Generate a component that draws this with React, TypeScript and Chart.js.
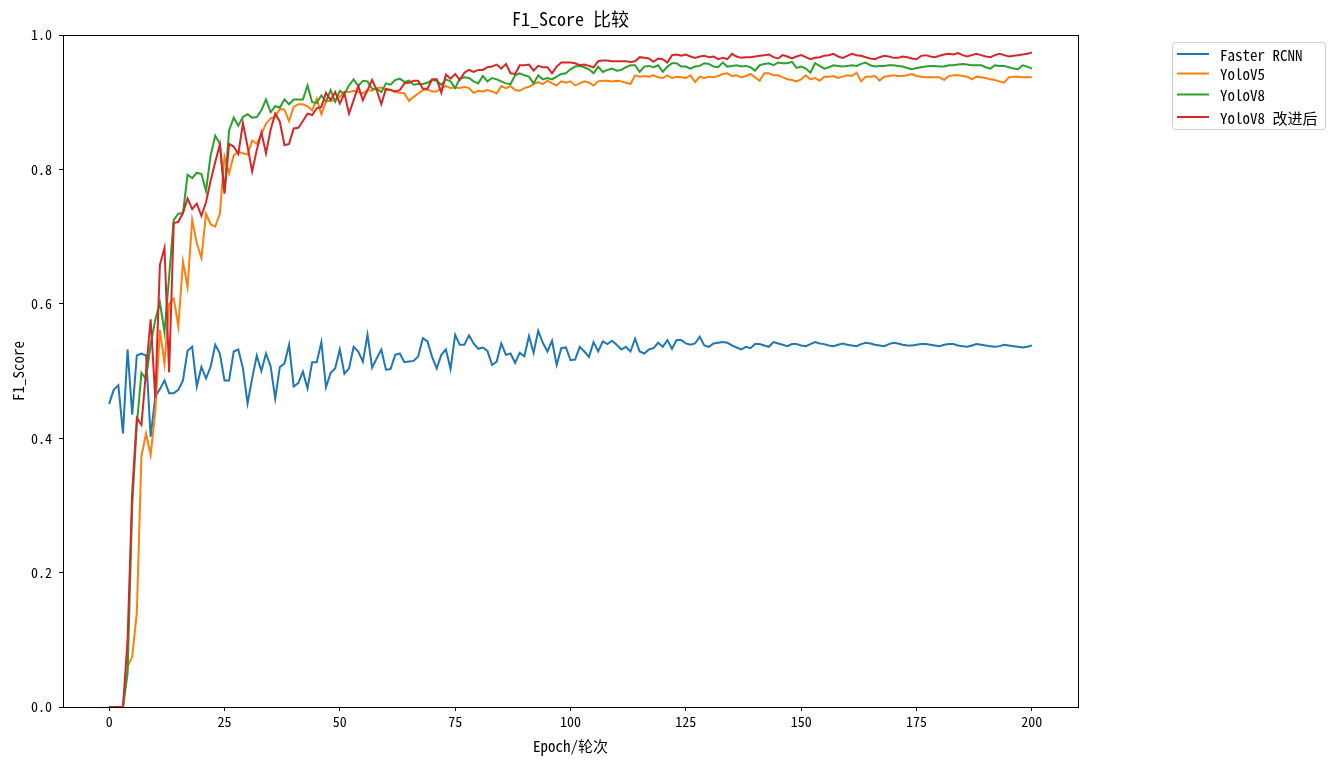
import React, { useEffect, useRef } from "react";
import { Chart, registerables } from "chart.js";

Chart.register(...registerables);

const FONT = '"Noto Sans Mono CJK SC", "Noto Sans CJK SC", "DejaVu Sans Mono", monospace';

const chartTitle = "F1_Score 比较";
const xAxisTitle = "Epoch/轮次";
const yAxisTitle = "F1_Score";
const seriesNames = ["Faster RCNN", "YoloV5", "YoloV8", "YoloV8 改进后"];
const seriesColors = ["#1f77b4", "#ff7f0e", "#2ca02c", "#d62728"];
const xTicks = [0, 25, 50, 75, 100, 125, 150, 175, 200];
const yTicks = [0, 0.2, 0.4, 0.6, 0.8, 1.0];

const epochs = Array.from({ length: 201 }, (_, i) => i);

const fasterRcnn = [
  0.451, 0.472, 0.479, 0.407, 0.532, 0.435, 0.523, 0.526, 0.523, 0.402,
  0.462, 0.473, 0.486, 0.467, 0.467, 0.472, 0.486, 0.530, 0.536, 0.477,
  0.506, 0.489, 0.506, 0.539, 0.526, 0.486, 0.486, 0.529, 0.532, 0.504,
  0.452, 0.489, 0.523, 0.500, 0.526, 0.507, 0.459, 0.506, 0.511, 0.539,
  0.477, 0.482, 0.499, 0.474, 0.513, 0.513, 0.543, 0.476, 0.497, 0.504,
  0.532, 0.496, 0.504, 0.536, 0.529, 0.514, 0.554, 0.505, 0.519, 0.532,
  0.502, 0.503, 0.524, 0.526, 0.513, 0.514, 0.515, 0.522, 0.549, 0.544,
  0.521, 0.504, 0.524, 0.532, 0.503, 0.554, 0.539, 0.539, 0.553, 0.541,
  0.533, 0.535, 0.530, 0.509, 0.514, 0.541, 0.524, 0.526, 0.512, 0.527,
  0.522, 0.552, 0.527, 0.560, 0.542, 0.529, 0.545, 0.509, 0.534, 0.535,
  0.516, 0.517, 0.536, 0.529, 0.521, 0.543, 0.529, 0.544, 0.540, 0.545,
  0.539, 0.532, 0.536, 0.529, 0.548, 0.529, 0.526, 0.532, 0.534, 0.542,
  0.536, 0.546, 0.533, 0.546, 0.546, 0.541, 0.539, 0.541, 0.551, 0.538,
  0.536, 0.541, 0.542, 0.543, 0.542, 0.538, 0.535, 0.532, 0.536, 0.534,
  0.540, 0.540, 0.538, 0.536, 0.543, 0.541, 0.539, 0.537, 0.540, 0.540,
  0.538, 0.537, 0.540, 0.543, 0.541, 0.540, 0.538, 0.537, 0.539, 0.541,
  0.539, 0.538, 0.537, 0.540, 0.542, 0.541, 0.539, 0.538, 0.537, 0.540,
  0.542, 0.541, 0.539, 0.538, 0.538, 0.539, 0.540, 0.540, 0.539, 0.538,
  0.537, 0.539, 0.540, 0.540, 0.538, 0.537, 0.536, 0.538, 0.540, 0.539,
  0.538, 0.537, 0.536, 0.537, 0.539, 0.538, 0.537, 0.536, 0.535, 0.536,
  0.538,
];

const yoloV5 = [
  0, 0, 0, 0, 0.06, 0.075, 0.14, 0.373, 0.407, 0.375,
  0.44, 0.561, 0.511, 0.60, 0.608, 0.566, 0.663, 0.625, 0.725, 0.690,
  0.668, 0.734, 0.718, 0.715, 0.734, 0.819, 0.794, 0.821, 0.826, 0.824,
  0.822, 0.843, 0.838, 0.852, 0.868, 0.876, 0.878, 0.890, 0.889, 0.872,
  0.893, 0.897, 0.897, 0.894, 0.888, 0.905, 0.882, 0.901, 0.902, 0.903,
  0.908, 0.915, 0.915, 0.917, 0.915, 0.913, 0.918, 0.917, 0.921, 0.922,
  0.918, 0.919, 0.915, 0.914, 0.913, 0.902, 0.908, 0.913, 0.918, 0.919,
  0.916, 0.916, 0.921, 0.924, 0.921, 0.922, 0.921, 0.923, 0.921, 0.914,
  0.917, 0.916, 0.918, 0.916, 0.913, 0.924, 0.921, 0.924, 0.918, 0.917,
  0.921, 0.923, 0.927, 0.930, 0.927, 0.932, 0.928, 0.925, 0.931, 0.929,
  0.931, 0.925, 0.928, 0.931, 0.929, 0.925, 0.931, 0.932, 0.932, 0.931,
  0.932, 0.931, 0.929, 0.927, 0.940, 0.938, 0.939, 0.938, 0.940, 0.937,
  0.936, 0.940, 0.936, 0.938, 0.937, 0.936, 0.940, 0.930, 0.938, 0.936,
  0.938, 0.937, 0.939, 0.942, 0.943, 0.939, 0.940, 0.937, 0.939, 0.942,
  0.937, 0.932, 0.943, 0.943, 0.940, 0.940, 0.937, 0.934, 0.933, 0.931,
  0.934, 0.940, 0.934, 0.936, 0.932, 0.938, 0.938, 0.939, 0.936, 0.938,
  0.940, 0.939, 0.944, 0.931, 0.938, 0.938, 0.939, 0.932, 0.938, 0.939,
  0.940, 0.939, 0.939, 0.940, 0.942, 0.939, 0.938, 0.937, 0.937, 0.937,
  0.937, 0.933, 0.939, 0.940, 0.940, 0.939, 0.938, 0.934, 0.938, 0.937,
  0.936, 0.934, 0.933, 0.931, 0.929, 0.937, 0.938, 0.938, 0.937, 0.937,
  0.937,
];

const yoloV8 = [
  0, 0, 0, 0, 0.05, 0.30, 0.42, 0.497, 0.488, 0.54,
  0.576, 0.602, 0.558, 0.64, 0.725, 0.734, 0.735, 0.792, 0.787, 0.795,
  0.793, 0.768, 0.821, 0.850, 0.838, 0.767, 0.858, 0.877, 0.865, 0.878,
  0.882, 0.877, 0.878, 0.888, 0.904, 0.885, 0.894, 0.892, 0.904, 0.897,
  0.904, 0.904, 0.904, 0.925, 0.900, 0.899, 0.910, 0.901, 0.918, 0.901,
  0.917, 0.912, 0.925, 0.934, 0.924, 0.932, 0.931, 0.920, 0.920, 0.915,
  0.928, 0.926, 0.933, 0.935, 0.930, 0.932, 0.926, 0.927, 0.927, 0.929,
  0.933, 0.932, 0.926, 0.934, 0.931, 0.921, 0.935, 0.937, 0.936, 0.931,
  0.928, 0.939, 0.931, 0.936, 0.934, 0.931, 0.928, 0.927, 0.940, 0.943,
  0.940, 0.938, 0.928, 0.940, 0.934, 0.936, 0.934, 0.938, 0.942, 0.943,
  0.949, 0.953, 0.954, 0.952, 0.949, 0.943, 0.953, 0.945, 0.948, 0.950,
  0.947, 0.948, 0.952, 0.955, 0.955, 0.945, 0.953, 0.954, 0.952, 0.955,
  0.945, 0.953, 0.958, 0.958, 0.953, 0.953, 0.950, 0.953, 0.954, 0.958,
  0.957, 0.953, 0.952, 0.959, 0.953, 0.954, 0.955, 0.953, 0.954, 0.952,
  0.947, 0.955, 0.957, 0.958, 0.955, 0.959, 0.958, 0.958, 0.960, 0.951,
  0.953, 0.950, 0.944, 0.958, 0.954, 0.950, 0.952, 0.955, 0.954, 0.953,
  0.954, 0.955, 0.954, 0.957, 0.959, 0.955, 0.953, 0.954, 0.954, 0.955,
  0.955, 0.954, 0.953, 0.951, 0.949, 0.951, 0.952, 0.953, 0.954, 0.954,
  0.953, 0.953, 0.955, 0.955, 0.956, 0.957, 0.956, 0.955, 0.955, 0.955,
  0.952, 0.950, 0.955, 0.954, 0.954, 0.952, 0.950, 0.949, 0.955, 0.953,
  0.950,
];

const yoloV8Improved = [
  0, 0, 0, 0, 0.10, 0.32, 0.43, 0.42, 0.50, 0.577,
  0.46, 0.658, 0.683, 0.498, 0.720, 0.722, 0.735, 0.757, 0.741, 0.749,
  0.731, 0.751, 0.783, 0.811, 0.837, 0.764, 0.838, 0.834, 0.823, 0.869,
  0.834, 0.797, 0.829, 0.855, 0.824, 0.859, 0.883, 0.871, 0.836, 0.838,
  0.861, 0.862, 0.872, 0.883, 0.881, 0.891, 0.893, 0.914, 0.903, 0.915,
  0.898, 0.913, 0.883, 0.903, 0.924, 0.903, 0.918, 0.933, 0.918, 0.897,
  0.920, 0.918, 0.916, 0.918, 0.928, 0.929, 0.932, 0.932, 0.920, 0.920,
  0.934, 0.934, 0.914, 0.941, 0.935, 0.942, 0.933, 0.944, 0.948, 0.945,
  0.948, 0.948, 0.952, 0.953, 0.956, 0.950, 0.957, 0.943, 0.942, 0.955,
  0.955, 0.956, 0.947, 0.954, 0.952, 0.952, 0.943, 0.953, 0.959, 0.959,
  0.959, 0.958, 0.955, 0.956, 0.954, 0.952, 0.961, 0.962, 0.962, 0.961,
  0.961, 0.961, 0.961, 0.960, 0.961, 0.967, 0.966, 0.965, 0.960, 0.965,
  0.964, 0.959, 0.970, 0.971, 0.969, 0.971, 0.968, 0.966, 0.968, 0.969,
  0.967, 0.968, 0.964, 0.966, 0.964, 0.972, 0.968, 0.966, 0.967, 0.967,
  0.968, 0.969, 0.970, 0.971, 0.967, 0.965, 0.970, 0.968, 0.965, 0.968,
  0.970, 0.967, 0.964, 0.966, 0.967, 0.969, 0.970, 0.972, 0.968, 0.966,
  0.969, 0.972, 0.970, 0.969, 0.967, 0.965, 0.964, 0.967, 0.969, 0.968,
  0.966, 0.966, 0.968, 0.967, 0.965, 0.964, 0.969, 0.970, 0.968, 0.967,
  0.969, 0.971, 0.972, 0.971, 0.973, 0.970, 0.968, 0.970, 0.972, 0.970,
  0.968, 0.967, 0.970, 0.972, 0.970, 0.968, 0.969, 0.970, 0.971, 0.972,
  0.974,
];

const seriesValues = [fasterRcnn, yoloV5, yoloV8, yoloV8Improved];

const decorPlugin = {
  id: "decor",
  afterDraw(chart: any) {
    const { ctx, chartArea: a } = chart;
    ctx.save();
    // spines
    ctx.strokeStyle = "#000";
    ctx.lineWidth = 1;
    ctx.strokeRect(a.left + 0.5, a.top + 0.5, a.right - a.left, a.bottom - a.top);
    const cx = (a.left + a.right) / 2;
    ctx.fillStyle = "#000";
    ctx.textAlign = "center";
    ctx.textBaseline = "middle";
    // title
    ctx.font = `18px ${FONT}`;
    ctx.fillText(chartTitle, cx, 19);
    // x label
    ctx.font = `15px ${FONT}`;
    ctx.fillText(xAxisTitle, cx, 746);
    // y label
    ctx.save();
    ctx.translate(18, (a.top + a.bottom) / 2);
    ctx.rotate(-Math.PI / 2);
    ctx.font = `15px ${FONT}`;
    ctx.fillText(yAxisTitle, 0, 0);
    ctx.restore();
    // legend
    const bx = 1172.5, by = 42.5, bw = 153, bh = 87;
    ctx.beginPath();
    if ((ctx as any).roundRect) (ctx as any).roundRect(bx, by, bw, bh, 3);
    else ctx.rect(bx, by, bw, bh);
    ctx.fillStyle = "rgba(255,255,255,0.8)";
    ctx.fill();
    ctx.strokeStyle = "#cccccc";
    ctx.stroke();
    const rows = [54, 73.5, 94.5, 117];
    ctx.font = `15px ${FONT}`;
    ctx.textAlign = "left";
    chart.data.datasets.forEach((ds: any, i: number) => {
      const y = rows[i];
      ctx.strokeStyle = ds.borderColor;
      ctx.lineWidth = 2;
      ctx.beginPath();
      ctx.moveTo(1177, y);
      ctx.lineTo(1209, y);
      ctx.stroke();
      ctx.fillStyle = "#000";
      ctx.fillText(ds.label, 1220, y + 1);
    });
    ctx.restore();
  },
};

export default function App() {
  const ref = useRef<HTMLCanvasElement | null>(null);
  useEffect(() => {
    document.body.style.margin = "0";
    if (!ref.current) return;
    const datasets = seriesNames.map((name, i) => ({
      label: name,
      data: epochs.map((e, j) => ({ x: e, y: seriesValues[i][j] })),
      borderColor: seriesColors[i],
      backgroundColor: seriesColors[i],
      borderWidth: 2,
      pointRadius: 0,
      tension: 0,
      fill: false,
      order: seriesNames.length - 1 - i,
    }));
    const chart = new Chart(ref.current, {
      type: "line",
      data: { datasets },
      options: {
        responsive: false,
        animation: false,
        parsing: false as any,
        layout: { padding: { left: 0, top: 35, right: 265, bottom: 0 } },
        plugins: { legend: { display: false }, tooltip: { enabled: false }, title: { display: false } },
        scales: {
          x: {
            type: "linear",
            min: -10,
            max: 210,
            afterBuildTicks: (s: any) => {
              s.ticks = xTicks.map((v) => ({ value: v }));
            },
            afterFit: (s: any) => {
              s.height = 55;
            },
            grid: { display: true, drawOnChartArea: false, drawTicks: true, tickLength: 4, color: "#000" },
            border: { display: false },
            ticks: {
              color: "#000",
              padding: 2,
              maxRotation: 0,
              autoSkip: false,
              font: { family: FONT, size: 14 },
              callback: (v: any) => String(v),
            },
          },
          y: {
            type: "linear",
            min: 0,
            max: 1,
            afterBuildTicks: (s: any) => {
              s.ticks = yTicks.map((v) => ({ value: v }));
            },
            afterFit: (s: any) => {
              s.width = 63;
            },
            grid: { display: true, drawOnChartArea: false, drawTicks: true, tickLength: 4, color: "#000" },
            border: { display: false },
            ticks: {
              color: "#000",
              padding: 7,
              autoSkip: false,
              font: { family: FONT, size: 14 },
              callback: (v: any) => Number(v).toFixed(1),
            },
          },
        },
      },
      plugins: [decorPlugin],
    });
    return () => chart.destroy();
  }, []);
  return <canvas ref={ref} width={1343} height={762} style={{ display: "block" }} />;
}
